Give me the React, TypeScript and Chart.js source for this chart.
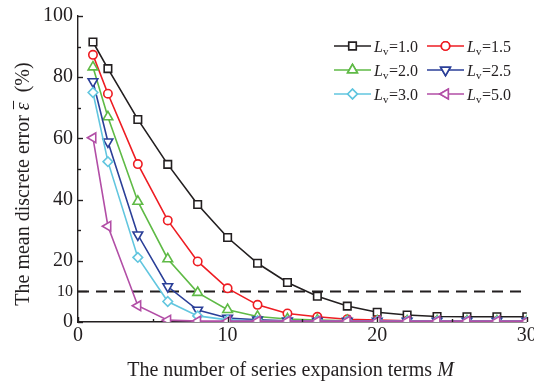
import React, { useEffect, useRef } from 'react';
import { Chart, registerables } from 'chart.js';
import { drawPoint } from 'chart.js/helpers';

Chart.register(...registerables);

// ---- data ----
const xValues = [1, 2, 4, 6, 8, 10, 12, 14, 16, 18, 20, 22, 24, 26, 28, 30];
const lv10 = [91.5, 82.8, 66.2, 51.5, 38.4, 27.6, 19.2, 12.9, 8.4, 5.2, 3.2, 2.3, 1.8, 1.7, 1.7, 1.7];
const lv15 = [87.3, 74.6, 51.6, 33.2, 19.8, 11.0, 5.6, 2.8, 1.7, 0.9, 0.6, 0.4, 0.3, 0.3, 0.3, 0.3];
const lv20 = [83.3, 67.0, 39.4, 20.6, 9.6, 4.0, 1.8, 1.0, 0.6, 0.4, 0.3, 0.3, 0.3, 0.3, 0.3, 0.3];
const lv25 = [78.6, 58.9, 28.5, 11.6, 3.9, 1.3, 0.7, 0.4, 0.3, 0.3, 0.3, 0.3, 0.3, 0.3, 0.3, 0.3];
const lv30 = [75.0, 52.4, 21.1, 6.7, 2.0, 0.7, 0.4, 0.3, 0.3, 0.3, 0.3, 0.3, 0.3, 0.3, 0.3, 0.3];
const lv50 = [60.2, 31.3, 5.3, 0.6, 0.3, 0.3, 0.3, 0.3, 0.3, 0.3, 0.3, 0.3, 0.3, 0.3, 0.3, 0.3];
const lvLabels = ['1.0', '1.5', '2.0', '2.5', '3.0', '5.0'];
const thresholdX = [0, 30];
const thresholdY = [10, 10];
const yTickLabels = [0, 10, 20, 40, 60, 80, 100];
const xTickLabels = [0, 10, 20, 30];

const seriesValues = [lv10, lv15, lv20, lv25, lv30, lv50];
const colors = ['#231f20', '#ee1d23', '#5fba46', '#2b3f98', '#62c6df', '#b24ea6'];
const styles = [
  { pointStyle: 'rect', radius: 5.3, rotation: 0 },
  { pointStyle: 'circle', radius: 4.2, rotation: 0 },
  { pointStyle: 'triangle', radius: 5.6, rotation: 0 },
  { pointStyle: 'triangle', radius: 5.6, rotation: 180 },
  { pointStyle: 'rectRot', radius: 4.8, rotation: 0 },
  { pointStyle: 'triangle', radius: 5.6, rotation: 270 },
];

const SERIF = '"Liberation Serif", "Times New Roman", serif';

const legendPlugin = {
  id: 'customLegend',
  afterDraw(chart: any) {
    const ctx = chart.ctx;
    const rowsY = [46, 70, 94];
    const colX = [334, 427];
    ctx.save();
    lvLabels.forEach((lab, i) => {
      const col = i % 2;
      const row = Math.floor(i / 2);
      const x0 = colX[col];
      const x1 = x0 + 37;
      const y = rowsY[row];
      ctx.strokeStyle = colors[i];
      ctx.lineWidth = 1.6;
      ctx.beginPath();
      ctx.moveTo(x0, y);
      ctx.lineTo(x1, y);
      ctx.stroke();
      ctx.fillStyle = '#fff';
      drawPoint(ctx, {
        pointStyle: styles[i].pointStyle,
        radius: styles[i].radius,
        rotation: styles[i].rotation,
        borderWidth: 1.6,
      }, (x0 + x1) / 2, y);
      ctx.fill();
      ctx.stroke();
      // text
      ctx.fillStyle = '#231f20';
      ctx.textBaseline = 'alphabetic';
      ctx.textAlign = 'left';
      let tx = x1 + 3;
      const base = y + 6;
      ctx.font = `italic 16px ${SERIF}`;
      ctx.fillText('L', tx, base);
      tx += ctx.measureText('L').width;
      ctx.font = `11px ${SERIF}`;
      ctx.fillText('v', tx, base + 3);
      tx += ctx.measureText('v').width + 0.5;
      ctx.font = `16px ${SERIF}`;
      ctx.fillText('=' + lab, tx, base);
    });
    ctx.restore();
  },
};

const axesDecor = {
  id: 'axesDecor',
  afterDraw(chart: any) {
    const ctx = chart.ctx;
    const xs = chart.scales.x;
    const ys = chart.scales.y;
    const left = chart.chartArea.left;
    const bottom = chart.chartArea.bottom;
    ctx.save();
    ctx.strokeStyle = '#231f20';
    ctx.lineWidth = 1.4;
    // y ticks (inward)
    for (let v = 0; v <= 100; v += 10) {
      const py = Math.round(ys.getPixelForValue(v)) + 0.5;
      let len = v % 20 === 0 ? 5 : 3;
      if (v === 10) len = 9;
      ctx.beginPath();
      ctx.moveTo(left, py);
      ctx.lineTo(left + len, py);
      ctx.stroke();
    }
    for (let v = 0; v <= 30; v += 5) {
      const px = Math.round(xs.getPixelForValue(v)) + 0.5;
      const len = v % 10 === 0 ? 5 : 3;
      ctx.beginPath();
      ctx.moveTo(px, bottom);
      ctx.lineTo(px, bottom - len);
      ctx.stroke();
    }
    // axis titles
    ctx.fillStyle = '#231f20';
    ctx.textBaseline = 'alphabetic';
    ctx.textAlign = 'left';
    // x title
    const xParts: [string, string][] = [
      ['The number of series expansion terms ', `20px ${SERIF}`],
      ['M', `italic 20px ${SERIF}`],
    ];
    let w = 0;
    xParts.forEach(([t, f]) => { ctx.font = f; w += ctx.measureText(t).width; });
    let tx = 290.5 - w / 2;
    xParts.forEach(([t, f]) => { ctx.font = f; ctx.fillText(t, tx, 376); tx += ctx.measureText(t).width; });
    // y title
    ctx.translate(29, 184);
    ctx.rotate(-Math.PI / 2);
    const yParts: [string, string][] = [
      ['The mean discrete error ', `20px ${SERIF}`],
      ['\u03b5', `italic 20px ${SERIF}`],
      ['  (%)', `20px ${SERIF}`],
    ];
    w = 0;
    yParts.forEach(([t, f]) => { ctx.font = f; w += ctx.measureText(t).width; });
    tx = -w / 2;
    yParts.forEach(([t, f], i) => {
      ctx.font = f;
      ctx.fillText(t, tx, 0);
      const tw = ctx.measureText(t).width;
      if (i === 1) {
        ctx.lineWidth = 1;
        ctx.beginPath();
        ctx.moveTo(tx + 1, -15.5);
        ctx.lineTo(tx + tw + 1.5, -15.5);
        ctx.stroke();
      }
      tx += tw;
    });
    ctx.restore();
  },
};

export default function App() {
  const ref = useRef<HTMLCanvasElement | null>(null);
  useEffect(() => {
    document.body.style.margin = '0';
    const canvas = ref.current;
    if (!canvas) return;
    const datasets: any[] = seriesValues.map((vals, i) => ({
      label: 'Lv=' + lvLabels[i],
      data: xValues.map((x, j) => ({ x, y: vals[j] })),
      borderColor: colors[i],
      backgroundColor: '#ffffff',
      borderWidth: 1.6,
      pointStyle: styles[i].pointStyle,
      pointRadius: styles[i].radius,
      pointRotation: styles[i].rotation,
      pointBorderWidth: 1.6,
      pointBackgroundColor: '#ffffff',
      pointBorderColor: colors[i],
      order: 10 - i,
      tension: 0,
    }));
    datasets.push({
      label: 'threshold',
      data: thresholdX.map((x, j) => ({ x, y: thresholdY[j] })),
      borderColor: '#231f20',
      borderWidth: 2,
      borderDash: [11, 7],
      pointRadius: 0,
      order: 20,
    });
    const chart = new Chart(canvas, {
      type: 'line',
      data: { datasets },
      plugins: [legendPlugin, axesDecor],
      options: {
        responsive: false,
        animation: false,
        layout: { padding: { top: 16, right: 4, left: 0, bottom: 0 } },
        plugins: { legend: { display: false }, tooltip: { enabled: false } },
        scales: {
          x: {
            type: 'linear',
            min: 0,
            max: 30,
            grid: { display: false, drawTicks: false },
            border: { display: true, color: '#231f20', width: 1.4 },
            ticks: {
              stepSize: 10,
              padding: 2,
              color: '#231f20',
              font: { family: SERIF, size: 20 },
              maxRotation: 0,
              callback: (v: any) => (xTickLabels.includes(v) ? String(v) : ''),
            },
            afterFit: (s: any) => {
              s.height = 61;
              s.paddingLeft = 0;
              s.paddingRight = 0;
            },
          },
          y: {
            type: 'linear',
            min: 0,
            max: 100,
            grid: { display: false, drawTicks: false },
            border: { display: true, color: '#231f20', width: 1.4 },
            ticks: {
              stepSize: 10,
              padding: 5,
              color: '#231f20',
              font: (c: any) => ({ family: SERIF, size: c.tick && c.tick.value === 10 ? 16 : 20 }),
              callback: (v: any) => (yTickLabels.includes(v) ? String(v) : ''),
            },
            afterFit: (s: any) => {
              s.width = 78;
              s.paddingTop = 0;
              s.paddingBottom = 0;
            },
          },
        },
      },
    });
    return () => chart.destroy();
  }, []);
  return (
    <div style={{ position: 'absolute', left: 0, top: 0, width: 534, height: 383 }}>
      <canvas ref={ref} width={534} height={383} style={{ width: 534, height: 383 }} />
    </div>
  );
}
